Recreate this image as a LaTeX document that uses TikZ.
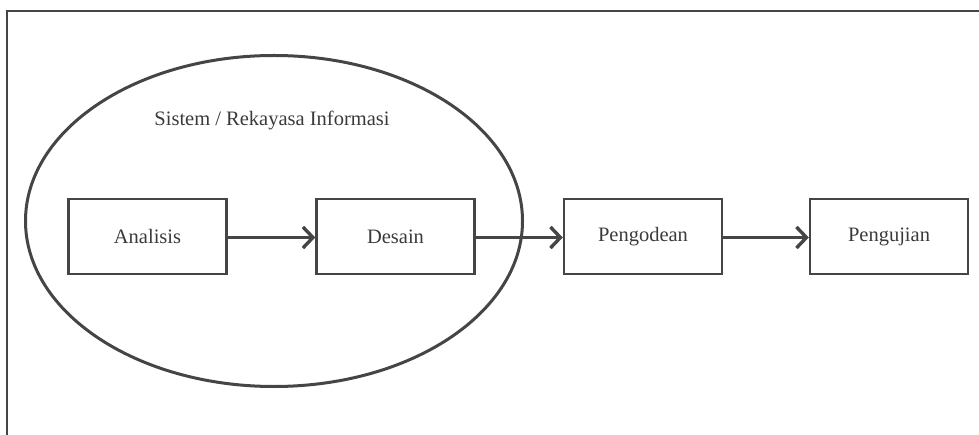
\documentclass[tikz,border=0pt]{standalone}
\usepackage{fontspec}
\setmainfont{Liberation Serif}
\usetikzlibrary{arrows.meta,shapes.geometric}
\definecolor{lc}{HTML}{454545}
\definecolor{tc}{HTML}{3A3A3A}
\begin{document}
\begin{tikzpicture}[x=1pt,y=1pt,
  proc/.style={draw=lc,line width=2.4pt,minimum width=158pt,minimum height=75pt,
    inner sep=0pt,font=\fontsize{20.5}{24}\selectfont,text=tc},
  flow/.style={draw=lc,line width=3.6pt,-{Straight Barb[length=10pt,width=21pt,line width=3.4pt]}}]
\useasboundingbox (0,0) rectangle (979,434);
% outer frame
\coordinate (fbl) at (7,-5);
\coordinate (ftl) at (7,423);
\coordinate (ftr) at (985,423);
\draw[lc,line width=2.8pt] (fbl) -- (ftl) -- (ftr);
% ellipse
\node (ell) [draw=lc,line width=3pt,ellipse,minimum width=497pt,minimum height=331pt,inner sep=0pt] at (274,213) {};
\node (lbl) [font=\fontsize{20.5}{24}\selectfont,text=tc] at (272,314) {Sistem / Rekayasa Informasi};
% boxes
\node (a) [proc] at (147.5,197.5) {Analisis};
\node (d) [proc] at (395.5,197.5) {Desain};
\node (p) [proc] at (643,197.5) {Pengodean};
\node (u) [proc] at (889,197.5) {Pengujian};
\draw[flow] (a.east) ++(0,-1) -- ([yshift=-1pt]d.west);
\draw[flow] (d.east) ++(0,-1) -- ([yshift=-1pt]p.west);
\draw[flow] (p.east) ++(0,-1) -- ([yshift=-1pt]u.west);
\end{tikzpicture}
\end{document}
